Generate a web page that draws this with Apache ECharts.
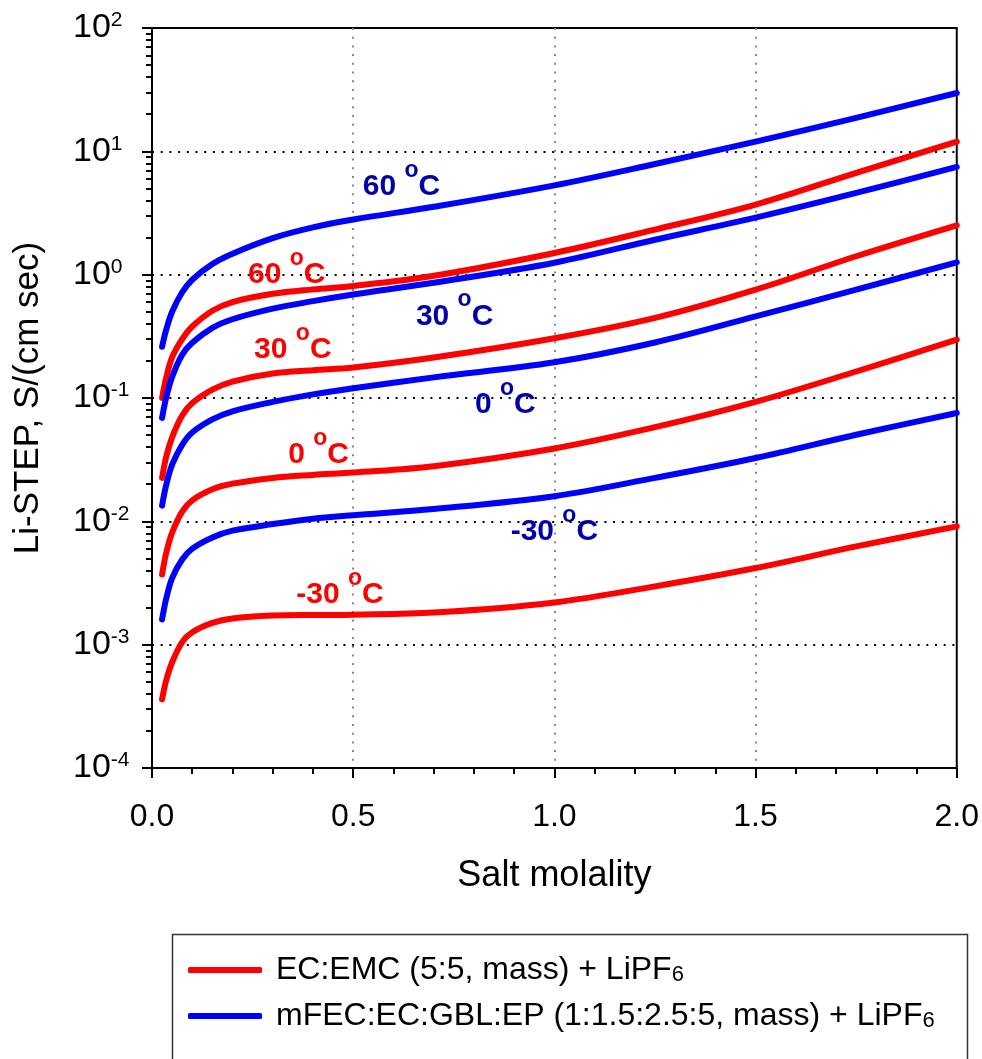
<!DOCTYPE html>
<html>
<head>
<meta charset="utf-8">
<script src="https://cdn.jsdelivr.net/npm/echarts@6/dist/echarts.min.js"></script>
<style>
html,body{margin:0;padding:0;background:#fff;}
#chart{width:982px;height:1059px;}
</style>
</head>
<body>
<div id="chart"></div>
<script>
// ---- data ----
const molality = [0.025, 0.035, 0.05, 0.075, 0.1, 0.15, 0.2, 0.3, 0.4, 0.5, 0.7, 1.0, 1.25, 1.5, 1.75, 2.0];

const ecEmc60  = [0.10, 0.145, 0.214, 0.30, 0.38, 0.51, 0.60, 0.70, 0.76, 0.81, 0.98, 1.50, 2.32, 3.70, 6.70, 12.0];
const ecEmc30  = [0.0225, 0.033, 0.048, 0.072, 0.091, 0.117, 0.136, 0.158, 0.168, 0.177, 0.213, 0.305, 0.446, 0.756, 1.41, 2.51];
const ecEmc0   = [0.0037, 0.0055, 0.0081, 0.012, 0.0148, 0.0182, 0.0202, 0.0225, 0.0238, 0.0249, 0.028, 0.039, 0.058, 0.093, 0.164, 0.297];
const ecEmcM30 = [0.00036, 0.00051, 0.00072, 0.00105, 0.00126, 0.0015, 0.00163, 0.00172, 0.00174, 0.00175, 0.00182, 0.0022, 0.00297, 0.00418, 0.00626, 0.0091];

const mfec60  = [0.26, 0.355, 0.50, 0.72, 0.91, 1.22, 1.48, 1.98, 2.42, 2.80, 3.55, 5.30, 7.90, 12.0, 18.7, 29.7];
const mfec30  = [0.069, 0.10, 0.148, 0.224, 0.28, 0.37, 0.435, 0.53, 0.61, 0.69, 0.86, 1.25, 1.92, 2.90, 4.60, 7.47];
const mfec0   = [0.0134, 0.0195, 0.0288, 0.0417, 0.0525, 0.067, 0.078, 0.093, 0.107, 0.120, 0.147, 0.195, 0.282, 0.459, 0.756, 1.26];
const mfecM30 = [0.0016, 0.00234, 0.00347, 0.0049, 0.0060, 0.0074, 0.0084, 0.0095, 0.0105, 0.0112, 0.0126, 0.0160, 0.0225, 0.0326, 0.0504, 0.0756];

const seriesNameRed  = 'EC:EMC (5:5, mass) + LiPF6';
const seriesNameBlue = 'mFEC:EC:GBL:EP (1:1.5:2.5:5, mass) + LiPF6';

// temperature annotations (data coordinates)
const redLabelText  = ['60', '30', '0', '-30'];
const redLabelX     = [0.335, 0.35, 0.414, 0.467];
const redLabelY     = [1.0, 0.246, 0.0347, 0.00254];
const blueLabelText = ['60', '30', '0', '-30'];
const blueLabelX    = [0.62, 0.752, 0.878, 1.0];
const blueLabelY    = [5.17, 0.457, 0.0883, 0.00824];

const xTickLabels = ['0.0', '0.5', '1.0', '1.5', '2.0'];

// ---- build ----
const FONT = 'Liberation Sans, Arial, sans-serif';
const RED = '#ff0000', BLUE = '#0000ff';
const RED_TXT = '#ff0000', BLUE_TXT = '#0000aa';

function pairs(ys){ return molality.map((x,i)=>[x, ys[i]]); }

function curve(name, ys, color){
  return {
    type:'line', name:name, data:pairs(ys), smooth:0.35, symbol:'none', showSymbol:false,
    lineStyle:{color:color, width:6, cap:'round', join:'round'}, itemStyle:{color:color}, z:3, silent:true
  };
}

function labelSeries(texts, xs, ys, color){
  return {
    type:'custom', silent:true, z:5, clip:false,
    data: texts.map((t,i)=>[xs[i], ys[i], i]),
    renderItem: function(params, api){
      const p = api.coord([api.value(0), api.value(1)]);
      const t = texts[api.value(2)];
      return {
        type:'text', x:p[0], y:p[1],
        style:{
          text: '{n|' + t + ' }{o|o}{n|C}',
          align:'center', verticalAlign:'middle',
          rich:{
            n:{fontSize:30, fontWeight:'bold', fontFamily:FONT, fill:color, lineHeight:56},
            o:{fontSize:23, fontWeight:'bold', fontFamily:FONT, fill:color, lineHeight:12, verticalAlign:'top'}
          }
        }
      };
    }
  };
}

const minorLogTicks = [];
for (let e = -4; e < 2; e++) for (let k = 2; k <= 9; k++) minorLogTicks.push(Math.log10(k * Math.pow(10, e)));

const dotted = [2, 6.7];

function legendFor(name, top){
  return {
    orient:'horizontal', left:188, top:top, padding:0,
    itemWidth:74, itemHeight:6, icon:'roundRect',
    data:[name], selectedMode:false,
    formatter:function(n){ return '{a|' + n.slice(0, -1) + '}{sub|6}'; },
    textStyle:{
      color:'#000', fontFamily:FONT, fontSize:32,
      rich:{
        a:{fontSize:32, fontFamily:FONT, color:'#000', lineHeight:32, padding:[0,0,0,9]},
        sub:{fontSize:22, fontFamily:FONT, color:'#000', lineHeight:12, verticalAlign:'bottom'}
      }
    }
  };
}

const option = {
  backgroundColor:'#fff',
  animation:false,
  grid:{left:152, top:28, width:806, height:740, show:true, borderColor:'#000', borderWidth:2, backgroundColor:'transparent'},
  graphic:[{
    type:'rect', left:170, top:932, silent:true,
    shape:{width:795, height:160},
    style:{fill:'none', stroke:'#333', lineWidth:1.5}
  }],
  xAxis:{
    type:'value', min:0, max:2, interval:0.5,
    name:'Salt molality', nameLocation:'middle', nameGap:90,
    nameTextStyle:{fontSize:36, color:'#000', fontFamily:FONT},
    axisLine:{show:true, onZero:false, lineStyle:{color:'#000', width:2}},
    axisTick:{show:true, length:10, lineStyle:{color:'#000', width:2}},
    minorTick:{show:true, splitNumber:5, length:6, lineStyle:{color:'#000', width:2}},
    axisLabel:{fontSize:32, color:'#000', fontFamily:FONT, margin:33,
      formatter:function(v){ return xTickLabels[Math.round(v/0.5)]; }},
    splitLine:{show:true, showMinLine:false, showMaxLine:false, lineStyle:{color:'#888', width:2, type:dotted}},
    minorSplitLine:{show:false}
  },
  yAxis:[
    {
      type:'log', logBase:10, min:1e-4, max:100, position:'left',
      name:'Li-STEP, S/(cm sec)', nameLocation:'middle', nameGap:106,
      nameTextStyle:{fontSize:35, color:'#000', fontFamily:FONT},
      axisLine:{show:true, lineStyle:{color:'#000', width:2}},
      axisTick:{show:true, length:10, lineStyle:{color:'#000', width:2}},
      minorTick:{show:false},
      axisLabel:{
        align:'left', margin:79, color:'#000', showMinLabel:true, showMaxLabel:true,
        formatter:function(v){ const e = Math.round(Math.log10(v)); return '{b|10}{s|' + e + '}'; },
        rich:{
          b:{fontSize:34, fontFamily:FONT, color:'#000', lineHeight:36},
          s:{fontSize:21, fontFamily:FONT, color:'#000', lineHeight:14, verticalAlign:'top'}
        }
      },
      splitLine:{show:true, showMinLine:false, showMaxLine:false, lineStyle:{color:'#000', width:2, type:dotted}}
    },
    {
      type:'value', min:-4, max:2, position:'left',
      axisLine:{show:false}, axisLabel:{show:false}, splitLine:{show:false},
      axisTick:{show:true, customValues:minorLogTicks, length:6, lineStyle:{color:'#000', width:2}}
    }
  ],
  legend:[legendFor(seriesNameRed, 954), legendFor(seriesNameBlue, 1000)],
  series:[
    curve(seriesNameRed, ecEmc60, RED),
    curve(seriesNameRed, ecEmc30, RED),
    curve(seriesNameRed, ecEmc0, RED),
    curve(seriesNameRed, ecEmcM30, RED),
    curve(seriesNameBlue, mfec60, BLUE),
    curve(seriesNameBlue, mfec30, BLUE),
    curve(seriesNameBlue, mfec0, BLUE),
    curve(seriesNameBlue, mfecM30, BLUE),
    labelSeries(redLabelText, redLabelX, redLabelY, RED_TXT),
    labelSeries(blueLabelText, blueLabelX, blueLabelY, BLUE_TXT)
  ]
};

const chart = echarts.init(document.getElementById('chart'), null, {renderer:'canvas'});
chart.setOption(option);
</script>
</body>
</html>
